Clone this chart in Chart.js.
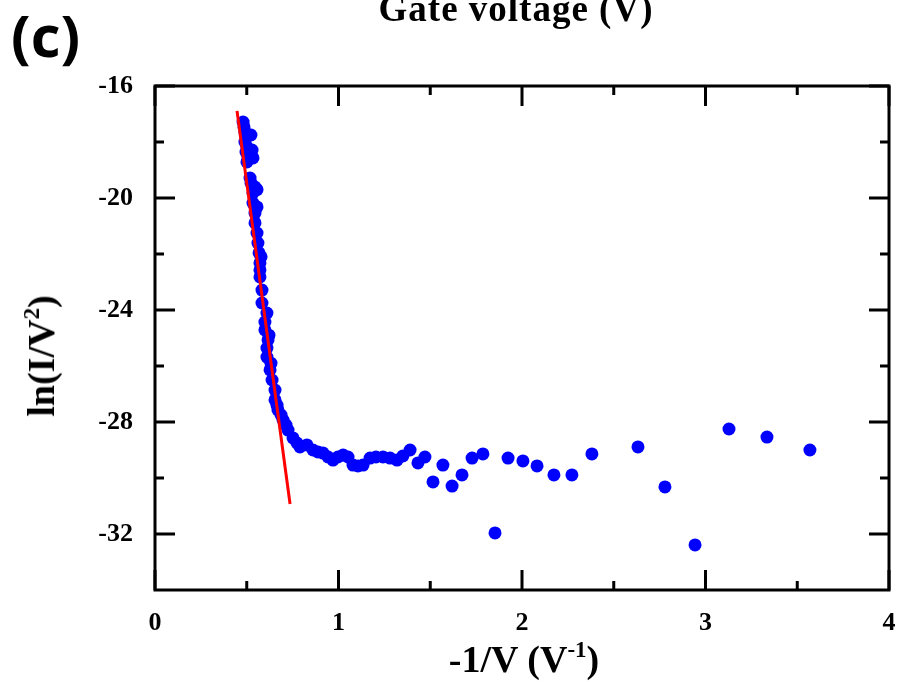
<!DOCTYPE html>
<html>
<head>
  <title>ln(I/V2) vs -1/V</title>
  <script src="https://cdn.jsdelivr.net/npm/chart.js"></script>
  <style>
    body {
      margin: 0;
      background-color: white;
    }

    .wrap {
      position: relative;
      width: 897px;
      height: 682px;
      overflow: hidden;
    }

    canvas {
      position: absolute;
      left: 0;
      top: 0;
    }

    .lbl {
      position: absolute;
      white-space: nowrap;
      line-height: 1;
      color: black;
    }

    .serif {
      font-family: "Liberation Serif", "DejaVu Serif", serif;
      font-weight: bold;
      font-size: 38px;
    }

    .serif sup {
      font-size: 23px;
      vertical-align: 0;
      position: relative;
      top: -15px;
    }

    .panel {
      left: 11px;
      top: 6px;
      font-family: "Open Sans", "Liberation Sans", sans-serif;
      font-weight: bold;
      font-size: 58px;
    }

    .top-title {
      left: 516px;
      top: 8px;
      transform: translate(-50%, -50%);
      font-size: 37px;
      letter-spacing: 1px;
    }

    .x-title {
      left: 524px;
      top: 659px;
      transform: translate(-50%, -50%);
    }

    .y-title {
      left: 41px;
      top: 356px;
      transform: translate(-50%, -50%) rotate(-90deg);
    }
  </style>
</head>
<body>
  <div class="wrap">
    <canvas id="fnChart" width="897" height="682"></canvas>
    <div class="lbl panel">(c)</div>
    <div class="lbl serif top-title">Gate voltage (V)</div>
    <div class="lbl serif x-title">-1/V (V<sup>-1</sup>)</div>
    <div class="lbl serif y-title">ln(I/V<sup>2</sup>)</div>
  </div>

  <script>
    // measured points, x = -1/V, y = ln(I/V^2)
    const pointX = [
      0.480, 0.485, 0.490, 0.496, 0.490, 0.501, 0.496, 0.507, 0.501,
      0.523, 0.529, 0.534,
      0.518, 0.523, 0.545, 0.534, 0.534, 0.556, 0.545, 0.545, 0.556,
      0.561, 0.567, 0.572, 0.572, 0.572, 0.583, 0.583, 0.610, 0.599,
      0.599, 0.616, 0.610, 0.610, 0.627, 0.638, 0.654, 0.654, 0.670,
      0.687, 0.698, 0.714, 0.725, 0.752, 0.774, 0.790, 0.828, 0.861,
      0.888, 0.916, 0.943, 0.970, 0.997, 1.025, 1.052, 1.079, 1.106,
      1.134, 1.172, 1.204, 1.243, 1.281, 1.319, 1.351,
      0.556, 0.578, 0.621, 0.632, 0.665,
      1.390, 1.471, 1.433, 1.569, 1.515, 1.619, 1.673, 1.728, 1.787,
      1.853, 1.924, 2.005, 2.082, 2.174, 2.272, 2.381, 2.632, 2.779,
      2.943, 3.128, 3.335, 3.569
    ];
    const pointY = [
      -17.29, -17.46, -17.64, -17.82, -18.00, -18.18, -18.36, -18.54, -18.71,
      -17.75, -18.29, -18.57,
      -19.29, -19.46, -19.61, -19.82, -20.18, -20.32, -20.54, -20.89, -21.25,
      -21.61, -21.96, -22.32, -22.57, -22.82, -23.29, -23.75, -24.11, -24.43,
      -24.71, -25.07, -25.36, -25.68, -26.14, -26.50, -26.86, -27.21, -27.57,
      -27.75, -27.93, -28.11, -28.29, -28.57, -28.75, -28.89, -28.82, -29.00,
      -29.07, -29.11, -29.25, -29.36, -29.25, -29.18, -29.25, -29.54, -29.57,
      -29.54, -29.29, -29.25, -29.25, -29.29, -29.36, -29.21,
      -19.70, -22.10, -24.90, -25.90, -27.40,
      -29.00, -29.25, -29.46, -29.54, -30.14, -30.29, -29.89, -29.29, -29.14,
      -31.96, -29.29, -29.39, -29.57, -29.89, -29.89, -29.14, -28.89, -30.32,
      -32.39, -28.25, -28.54, -29.00
    ];

    // linear fit (red line) end points
    const fitX = [0.447, 0.736];
    const fitY = [-16.89, -30.93];

    const xTicks = [0, 1, 2, 3, 4];
    const xMinor = [0.5, 1.5, 2.5, 3.5];
    const yTicks = [-32, -28, -24, -20, -16];
    const yMinor = [-18, -22, -26, -30];

    const tickFont = { family: '"Liberation Serif", "DejaVu Serif", serif', size: 26, weight: 'bold' };

    // frame with inward ticks on all four sides
    const framePlugin = {
      id: 'frame',
      afterDatasetsDraw(chart) {
        const { ctx, chartArea: a, scales: { x, y } } = chart;
        ctx.save();
        ctx.strokeStyle = 'black';
        ctx.lineWidth = 3;
        ctx.strokeRect(a.left, a.top, a.right - a.left, a.bottom - a.top);
        ctx.beginPath();
        const xt = (v, len) => {
          const px = x.getPixelForValue(v);
          ctx.moveTo(px, a.bottom); ctx.lineTo(px, a.bottom - len);
          ctx.moveTo(px, a.top); ctx.lineTo(px, a.top + len);
        };
        const yt = (v, len) => {
          const py = y.getPixelForValue(v);
          ctx.moveTo(a.left, py); ctx.lineTo(a.left + len, py);
          ctx.moveTo(a.right, py); ctx.lineTo(a.right - len, py);
        };
        xTicks.forEach(v => xt(v, 20));
        xMinor.forEach(v => xt(v, 9));
        yTicks.forEach(v => yt(v, 20));
        yMinor.forEach(v => yt(v, 9));
        ctx.stroke();
        ctx.restore();
      }
    };

    const ctx = document.getElementById('fnChart').getContext('2d');

    const chart = new Chart(ctx, {
      type: 'scatter',
      data: {
        datasets: [{
          label: 'fit',
          data: fitX.map((v, i) => ({ x: v, y: fitY[i] })),
          showLine: true,
          borderColor: '#ff0000',
          borderWidth: 3,
          pointRadius: 0,
          order: 0
        }, {
          label: 'data',
          data: pointX.map((v, i) => ({ x: v, y: pointY[i] })),
          backgroundColor: '#0000ff',
          borderWidth: 0,
          pointRadius: 6.5,
          order: 1
        }]
      },
      options: {
        responsive: false,
        animation: false,
        devicePixelRatio: 1,
        layout: { padding: { top: 86, right: 8, left: 0, bottom: 0 } },
        plugins: {
          legend: { display: false },
          tooltip: { enabled: false }
        },
        scales: {
          x: {
            type: 'linear',
            min: 0,
            max: 4,
            afterBuildTicks: scale => { scale.ticks = xTicks.map(v => ({ value: v })); },
            afterFit: scale => {
              scale.height = 92;
              scale.paddingLeft = 0;
              scale.paddingRight = 0;
            },
            grid: { display: false, drawTicks: false },
            border: { display: false },
            ticks: { color: 'black', font: tickFont, padding: 18, maxRotation: 0 }
          },
          y: {
            type: 'linear',
            min: -34,
            max: -16,
            afterBuildTicks: scale => { scale.ticks = yTicks.map(v => ({ value: v })); },
            afterFit: scale => {
              scale.width = 155;
              scale.paddingTop = 0;
              scale.paddingBottom = 0;
            },
            grid: { display: false, drawTicks: false },
            border: { display: false },
            ticks: { color: 'black', font: tickFont, padding: 22 }
          }
        }
      },
      plugins: [framePlugin]
    });
  </script>
</body>
</html>
